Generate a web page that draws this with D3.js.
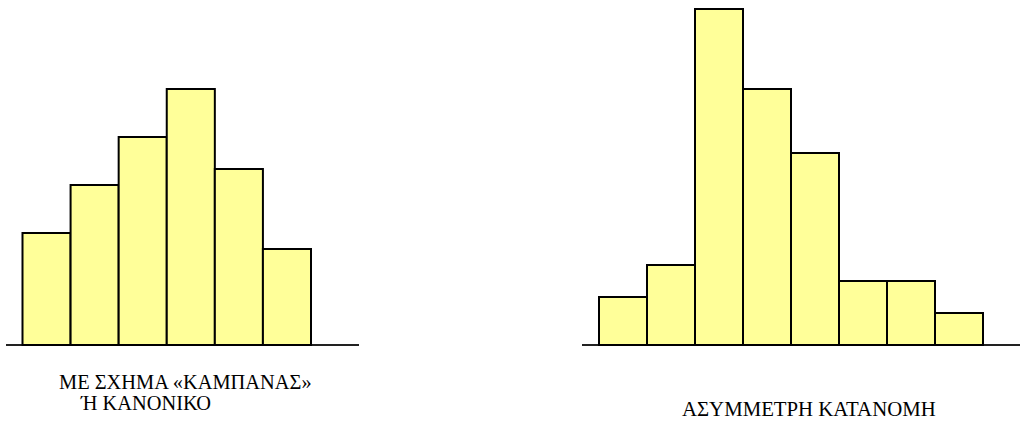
<!DOCTYPE html>
<html>
<head>
<meta charset="utf-8">
<script src="https://cdn.jsdelivr.net/npm/d3@7"></script>
<style>
  html, body { margin: 0; padding: 0; background: #fff; }
  svg { display: block; }
</style>
</head>
<body>
<svg id="chart" width="1020" height="421"></svg>
<script>
// Bell-shaped (normal) histogram frequencies
const bellBins = ["1", "2", "3", "4", "5", "6"];
const bellValues = [7, 10, 13, 16, 11, 6];
// Skewed histogram frequencies
const skewBins = ["1", "2", "3", "4", "5", "6", "7", "8"];
const skewValues = [3, 5, 21, 16, 12, 4, 4, 2];
// Captions
const bellCaption = ["ΜΕ ΣΧΗΜΑ «ΚΑΜΠΑΝΑΣ»", "Ή ΚΑΝΟΝΙΚΟ"];
const skewCaption = ["ΑΣΥΜΜΕΤΡΗ ΚΑΤΑΝΟΜΗ"];

const svg = d3.select("#chart");
const baseY = 345;
const y = d3.scaleLinear().domain([0, 21]).range([baseY, 9]);
const serif = "'Liberation Serif', 'Times New Roman', serif";

function histogram(bins, values, x0, x1, axisX0, axisX1) {
  const x = d3.scaleBand().domain(bins).range([x0, x1]).padding(0);
  const g = svg.append("g");
  g.append("line")
    .attr("x1", axisX0).attr("x2", axisX1)
    .attr("y1", baseY).attr("y2", baseY)
    .attr("stroke", "#222").attr("stroke-width", 2);
  g.selectAll("rect").data(values).join("rect")
    .attr("x", (d, i) => x(bins[i]))
    .attr("y", d => y(d))
    .attr("width", x.bandwidth())
    .attr("height", d => baseY - y(d))
    .attr("fill", "#ffff99")
    .attr("stroke", "#000")
    .attr("stroke-width", 2);
}

histogram(bellBins, bellValues, 22.5, 311, 6, 359);
histogram(skewBins, skewValues, 599, 983, 582, 1020);

function caption(x, yPos, str, size) {
  svg.append("text").attr("x", x).attr("y", yPos)
    .style("font-family", serif).style("font-size", size + "px")
    .attr("fill", "#000").text(str);
}
caption(59, 389, bellCaption[0], 20.4);
caption(81, 410, bellCaption[1], 20.4);
caption(682, 416, skewCaption[0], 20.8);
</script>
</body>
</html>
